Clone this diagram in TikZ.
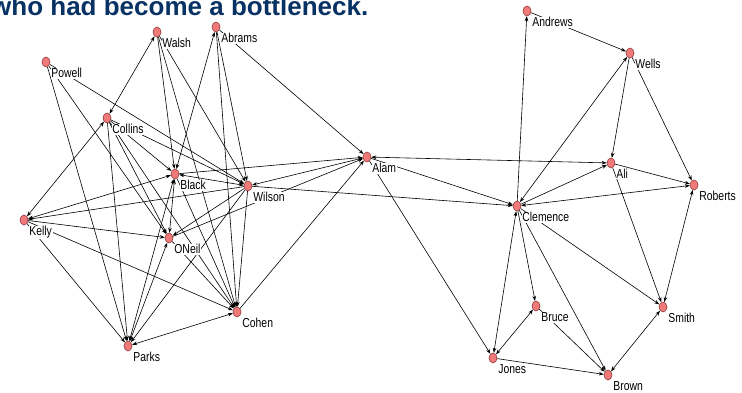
\documentclass[tikz,border=0pt]{standalone}
\usepackage{fontspec}
\setmainfont{Liberation Sans}
\newfontfamily\lblfont[FakeStretch=0.8]{Liberation Sans}
\newfontfamily\ttlfont{Liberation Sans}
\usetikzlibrary{shapes.geometric,arrows.meta}
\pgfdeclarelayer{background}
\pgfsetlayers{background,main}
\definecolor{ttlblue}{RGB}{8,50,100}
\definecolor{ptfill}{RGB}{240,122,122}
\definecolor{ptline}{RGB}{140,50,50}
\tikzset{
  pt/.style={ellipse, draw=ptline, fill=ptfill, line width=0.5pt, minimum width=8pt, minimum height=10pt, inner sep=0pt},
  lbl/.style={anchor=base west, fill=white, inner sep=0.7pt, font=\lblfont\fontsize{13}{13}\selectfont, text=black},
  link/.style={draw=black, line width=0.6pt, -{Stealth[length=5pt,width=3.6pt]}},
  linkb/.style={draw=black, line width=0.6pt, {Stealth[length=5pt,width=3.6pt]}-{Stealth[length=5pt,width=3.6pt]}},
}
\begin{document}
\begin{tikzpicture}[x=1pt,y=-1pt]
\useasboundingbox (0,0) rectangle (742,393);
\clip (0,0) rectangle (742,393);
\node[anchor=base west, inner sep=0pt, font=\ttlfont\bfseries\fontsize{26}{26}\selectfont, text=ttlblue] (title) at (-9,15.5) {who had become a bottleneck.};
\foreach \n/\x/\y/\t in {
  walsh/157/32/Walsh, abrams/216/27/Abrams, powell/46/62/Powell, collins/107/118/Collins,
  black/175/174/Black, wilson/248/186/Wilson, alam/367/157/Alam, kelly/24/220/Kelly,
  oneil/169/238/ONeil, cohen/237/312/Cohen, parks/128/346/Parks, andrews/527/11/Andrews,
  wells/630/53/Wells, ali/611/163/Ali, roberts/694/185/Roberts, clemence/517/206/Clemence,
  bruce/536/306/Bruce, smith/663/307/Smith, jones/493/358/Jones, brown/608/375/Brown}{
  \node[pt] (\n) at (\x,\y) {};
  \node[lbl] (\n-l) at (\x+4.5,\y+15.7) {\t};
}
\begin{pgfonlayer}{background}
\fill[white] (0,0) rectangle (742,393);
% left cluster
\draw[linkb] (collins) -- (walsh);
\draw[link] (walsh) -- (black);
\draw[link] (walsh) -- (cohen);
\draw[link] (walsh) -- (wilson);
\draw[linkb] (black) -- (abrams);
\draw[link] (abrams) -- (cohen);
\draw[link] (abrams) -- (wilson);
\draw[link] (abrams) -- (alam);
\draw[link] (powell) -- (parks);
\draw[link] (powell) -- (oneil);
\draw[link] (powell) -- (wilson);
\draw[link] (collins) -- (black);
\draw[link] (collins) -- (wilson);
\draw[link] (collins) -- (oneil);
\draw[link] (collins) -- (cohen);
\draw[link] (collins) -- (parks);
\draw[linkb] (kelly) -- (collins);
\draw[linkb] (kelly) -- (black);
\draw[link] (wilson) -- (kelly);
\draw[link] (kelly) -- (oneil);
\draw[link] (kelly) -- (cohen);
\draw[link] (kelly) -- (parks);
\draw[link] (black) -- (alam);
\draw[linkb] (black) -- (wilson);
\draw[linkb] (black) -- (oneil);
\draw[link] (black) -- (cohen);
\draw[linkb] (parks) -- (black);
\draw[link] (wilson) -- (oneil);
\draw[link] (wilson) -- (cohen);
\draw[link] (wilson) -- (parks);
\draw[linkb] (wilson) -- (alam);
\draw[link] (wilson) -- (clemence);
\draw[link] (oneil) -- (alam);
\draw[linkb] (oneil) -- (parks);
\draw[link] (oneil) -- (cohen);
\draw[linkb] (parks) -- (cohen);
\draw[link] (cohen) -- (alam);
% right cluster
\draw[linkb] (alam) -- (ali);
\draw[link] (alam) -- (clemence);
\draw[link] (alam) -- (jones);
\draw[link] (clemence) -- (andrews);
\draw[link] (andrews) -- (wells);
\draw[linkb] (clemence) -- (wells);
\draw[link] (wells) -- (ali);
\draw[link] (wells) -- (roberts);
\draw[link] (clemence) -- (ali);
\draw[link] (ali) -- (roberts);
\draw[linkb] (roberts) -- (clemence);
\draw[link] (ali) -- (smith);
\draw[linkb] (roberts) -- (smith);
\draw[link] (clemence) -- (smith);
\draw[link] (clemence) -- (bruce);
\draw[link] (clemence) -- (brown);
\draw[linkb] (clemence) -- (jones);
\draw[linkb] (bruce) -- (jones);
\draw[link] (bruce) -- (brown);
\draw[link] (jones) -- (brown);
\draw[linkb] (smith) -- (brown);
\end{pgfonlayer}
\end{tikzpicture}
\end{document}
